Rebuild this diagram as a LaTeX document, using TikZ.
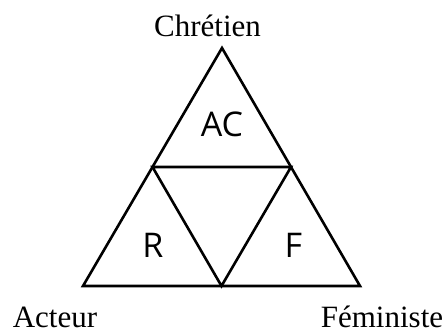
\documentclass[tikz,border=0pt]{standalone}
\usepackage{fontspec}
\setmainfont{Liberation Serif}
\newfontfamily\zonefont{Open Sans}
\usepackage{tikz}
\usetikzlibrary{calc}
\tikzset{
  triside/.style={line width=2.6pt,line join=miter},
  poletext/.style={anchor=base,inner sep=0pt,font=\fontsize{31}{36}\selectfont},
  zonetext/.style={anchor=base,inner sep=0pt,font=\zonefont\fontsize{34}{40}\selectfont}
}

\begin{document}
\begin{tikzpicture}[x=1pt,y=1pt]
  \useasboundingbox (0,0) rectangle (448,334);
  % corners and mid points
  \coordinate (top) at (222,286);
  \coordinate (left) at (83,48);
  \coordinate (right) at (360,48);
  \coordinate (midl) at ($(top)!0.5!(left)$);
  \coordinate (midr) at ($(top)!0.5!(right)$);
  \coordinate (midb) at ($(left)!0.5!(right)$);
  \draw[triside] (top)--(left)--(right)--cycle;
  \draw[triside] (midl)--(midr)--(midb)--cycle;
  \node[poletext] (chr) at (207.5,297) {Chrétien};
  \node[poletext] (act) at (55,6) {Acteur};
  \node[poletext] (fem) at (382,6) {Féministe};
  \node[zonetext] (ac) at (222,197) {AC};
  \node[zonetext] (r) at (153,76) {R};
  \node[zonetext] (f) at (293.5,76) {F};
\end{tikzpicture}
\end{document}
